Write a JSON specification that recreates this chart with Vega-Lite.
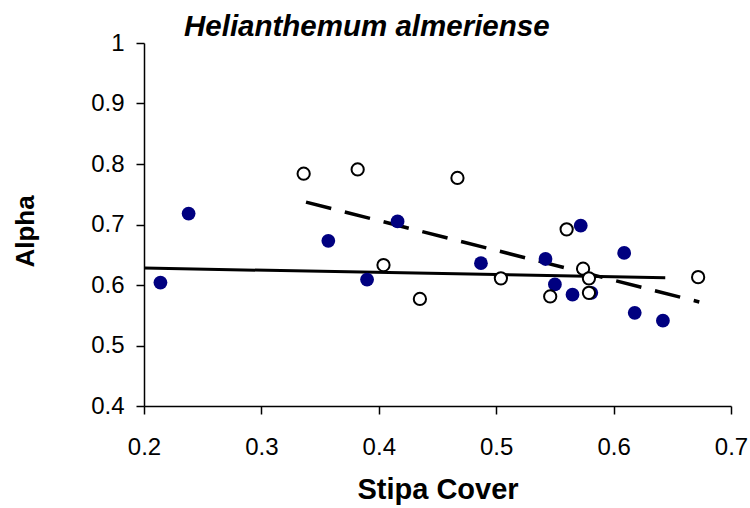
{
  "$schema": "https://vega.github.io/schema/vega-lite/v6.json",
  "width": 587,
  "height": 363,
  "autosize": "none",
  "padding": {"left": 144, "top": 43, "right": 19, "bottom": 102},
  "background": "white",
  "title": {
    "text": "Helianthemum almeriense",
    "font": "Liberation Sans",
    "fontSize": 29.5,
    "fontWeight": "bold",
    "fontStyle": "italic",
    "color": "black",
    "anchor": "start",
    "dx": 172,
    "dy": 32,
    "baseline": "bottom",
    "offset": -8
  },
  "config": {
    "view": {"stroke": null},
    "axis": {
      "grid": false,
      "domainColor": "black",
      "domainWidth": 1.5,
      "tickColor": "black",
      "tickWidth": 1.5,
      "tickSize": 8,
      "labelFlush": false,
      "labelFont": "Liberation Sans",
      "labelFontSize": 24,
      "labelColor": "black",
      "titleFont": "Liberation Sans",
      "titleFontWeight": "bold",
      "titleColor": "black"
    }
  },
  "datasets": {
    "points": [
      {"x": 0.214, "y": 0.604, "group": "filled"},
      {"x": 0.238, "y": 0.718, "group": "filled"},
      {"x": 0.357, "y": 0.673, "group": "filled"},
      {"x": 0.390, "y": 0.609, "group": "filled"},
      {"x": 0.416, "y": 0.705, "group": "filled"},
      {"x": 0.487, "y": 0.636, "group": "filled"},
      {"x": 0.542, "y": 0.643, "group": "filled"},
      {"x": 0.572, "y": 0.698, "group": "filled"},
      {"x": 0.550, "y": 0.601, "group": "filled"},
      {"x": 0.565, "y": 0.584, "group": "filled"},
      {"x": 0.581, "y": 0.587, "group": "filled"},
      {"x": 0.609, "y": 0.653, "group": "filled"},
      {"x": 0.618, "y": 0.554, "group": "filled"},
      {"x": 0.642, "y": 0.541, "group": "filled"},
      {"x": 0.336, "y": 0.784, "group": "open"},
      {"x": 0.382, "y": 0.791, "group": "open"},
      {"x": 0.467, "y": 0.777, "group": "open"},
      {"x": 0.404, "y": 0.633, "group": "open"},
      {"x": 0.435, "y": 0.577, "group": "open"},
      {"x": 0.504, "y": 0.611, "group": "open"},
      {"x": 0.560, "y": 0.692, "group": "open"},
      {"x": 0.546, "y": 0.581, "group": "open"},
      {"x": 0.574, "y": 0.627, "group": "open"},
      {"x": 0.579, "y": 0.611, "group": "open"},
      {"x": 0.579, "y": 0.587, "group": "open"},
      {"x": 0.672, "y": 0.613, "group": "open"}
    ],
    "solidfit": [
      {"x": 0.2, "y": 0.628},
      {"x": 0.644, "y": 0.612}
    ],
    "dashfit": [
      {"x": 0.338, "y": 0.737},
      {"x": 0.673, "y": 0.572}
    ]
  },
  "layer": [
    {
      "data": {"name": "solidfit"},
      "mark": {"type": "line", "color": "black", "strokeWidth": 3},
      "encoding": {
        "x": {"field": "x", "type": "quantitative", "scale": {"domain": [0.2, 0.7], "nice": false},
          "axis": {"values": [0.2, 0.3, 0.4, 0.5, 0.6, 0.7], "format": ".1~f", "labelPadding": 21,
            "title": "Stipa Cover", "titleFontSize": 29, "titleY": 92, "titleBaseline": "alphabetic"}},
        "y": {"field": "y", "type": "quantitative", "scale": {"domain": [0.4, 1], "nice": false},
          "axis": {"values": [0.4, 0.5, 0.6, 0.7, 0.8, 0.9, 1], "format": ".1~f", "labelPadding": 12,
            "title": "Alpha", "titleFontSize": 26, "titleX": -111, "titleY": 188, "titleBaseline": "alphabetic", "titleAlign": "center", "titleAngle": -90}}
      }
    },
    {
      "data": {"name": "dashfit"},
      "mark": {"type": "line", "color": "black", "strokeWidth": 3.5, "strokeDash": [26, 14]},
      "encoding": {
        "x": {"field": "x", "type": "quantitative"},
        "y": {"field": "y", "type": "quantitative"}
      }
    },
    {
      "data": {"name": "points"},
      "transform": [{"filter": "datum.group === 'filled'"}],
      "mark": {"type": "circle", "color": "#000080", "opacity": 1, "size": 190},
      "encoding": {
        "x": {"field": "x", "type": "quantitative"},
        "y": {"field": "y", "type": "quantitative"}
      }
    },
    {
      "data": {"name": "points"},
      "transform": [{"filter": "datum.group === 'open'"}],
      "mark": {"type": "point", "shape": "circle", "filled": true, "fill": "white", "stroke": "black", "strokeWidth": 2, "opacity": 1, "size": 150},
      "encoding": {
        "x": {"field": "x", "type": "quantitative"},
        "y": {"field": "y", "type": "quantitative"}
      }
    }
  ]
}
